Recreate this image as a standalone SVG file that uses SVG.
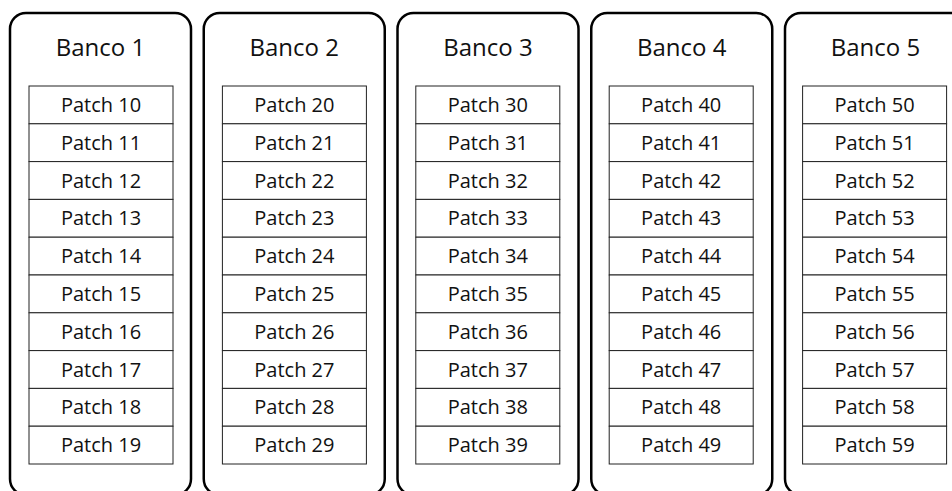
<svg xmlns="http://www.w3.org/2000/svg" width="952" height="491" viewBox="0 0 952 491">
  <style>
    .bank { fill: #fff; stroke: #000; stroke-width: 2.5; }
    .cell { fill: #fff; stroke: #222; stroke-width: 1; }
    .title { font-family: "Open Sans", "Noto Sans", sans-serif; font-size: 24px; fill: #111; text-anchor: middle; }
    .lbl { font-family: "Open Sans", "Noto Sans", sans-serif; font-size: 20px; fill: #111; text-anchor: middle; }
  </style>
  <rect width="952" height="491" fill="#fff"/>

  <g id="banco1">
    <rect class="bank" x="10" y="13" width="181" height="482" rx="16"/>
    <text class="title" x="100.5" y="56">Banco 1</text>
    <g id="patches1">
      <rect class="cell" x="29" y="86" width="144" height="37.8"/><text class="lbl" x="101" y="112">Patch 10</text>
      <rect class="cell" x="29" y="123.8" width="144" height="37.8"/><text class="lbl" x="101" y="149.8">Patch 11</text>
      <rect class="cell" x="29" y="161.6" width="144" height="37.8"/><text class="lbl" x="101" y="187.6">Patch 12</text>
      <rect class="cell" x="29" y="199.4" width="144" height="37.8"/><text class="lbl" x="101" y="225.4">Patch 13</text>
      <rect class="cell" x="29" y="237.2" width="144" height="37.8"/><text class="lbl" x="101" y="263.2">Patch 14</text>
      <rect class="cell" x="29" y="275" width="144" height="37.8"/><text class="lbl" x="101" y="301">Patch 15</text>
      <rect class="cell" x="29" y="312.8" width="144" height="37.8"/><text class="lbl" x="101" y="338.8">Patch 16</text>
      <rect class="cell" x="29" y="350.6" width="144" height="37.8"/><text class="lbl" x="101" y="376.6">Patch 17</text>
      <rect class="cell" x="29" y="388.4" width="144" height="37.8"/><text class="lbl" x="101" y="414.4">Patch 18</text>
      <rect class="cell" x="29" y="426.2" width="144" height="37.8"/><text class="lbl" x="101" y="452.2">Patch 19</text>
    </g>
  </g>

  <g id="banco2">
    <rect class="bank" x="203.75" y="13" width="181" height="482" rx="16"/>
    <text class="title" x="294.25" y="56">Banco 2</text>
    <g id="patches2">
      <rect class="cell" x="222.4" y="86" width="144" height="37.8"/><text class="lbl" x="294.4" y="112">Patch 20</text>
      <rect class="cell" x="222.4" y="123.8" width="144" height="37.8"/><text class="lbl" x="294.4" y="149.8">Patch 21</text>
      <rect class="cell" x="222.4" y="161.6" width="144" height="37.8"/><text class="lbl" x="294.4" y="187.6">Patch 22</text>
      <rect class="cell" x="222.4" y="199.4" width="144" height="37.8"/><text class="lbl" x="294.4" y="225.4">Patch 23</text>
      <rect class="cell" x="222.4" y="237.2" width="144" height="37.8"/><text class="lbl" x="294.4" y="263.2">Patch 24</text>
      <rect class="cell" x="222.4" y="275" width="144" height="37.8"/><text class="lbl" x="294.4" y="301">Patch 25</text>
      <rect class="cell" x="222.4" y="312.8" width="144" height="37.8"/><text class="lbl" x="294.4" y="338.8">Patch 26</text>
      <rect class="cell" x="222.4" y="350.6" width="144" height="37.8"/><text class="lbl" x="294.4" y="376.6">Patch 27</text>
      <rect class="cell" x="222.4" y="388.4" width="144" height="37.8"/><text class="lbl" x="294.4" y="414.4">Patch 28</text>
      <rect class="cell" x="222.4" y="426.2" width="144" height="37.8"/><text class="lbl" x="294.4" y="452.2">Patch 29</text>
    </g>
  </g>

  <g id="banco3">
    <rect class="bank" x="397.5" y="13" width="181" height="482" rx="16"/>
    <text class="title" x="488" y="56">Banco 3</text>
    <g id="patches3">
      <rect class="cell" x="415.8" y="86" width="144" height="37.8"/><text class="lbl" x="487.8" y="112">Patch 30</text>
      <rect class="cell" x="415.8" y="123.8" width="144" height="37.8"/><text class="lbl" x="487.8" y="149.8">Patch 31</text>
      <rect class="cell" x="415.8" y="161.6" width="144" height="37.8"/><text class="lbl" x="487.8" y="187.6">Patch 32</text>
      <rect class="cell" x="415.8" y="199.4" width="144" height="37.8"/><text class="lbl" x="487.8" y="225.4">Patch 33</text>
      <rect class="cell" x="415.8" y="237.2" width="144" height="37.8"/><text class="lbl" x="487.8" y="263.2">Patch 34</text>
      <rect class="cell" x="415.8" y="275" width="144" height="37.8"/><text class="lbl" x="487.8" y="301">Patch 35</text>
      <rect class="cell" x="415.8" y="312.8" width="144" height="37.8"/><text class="lbl" x="487.8" y="338.8">Patch 36</text>
      <rect class="cell" x="415.8" y="350.6" width="144" height="37.8"/><text class="lbl" x="487.8" y="376.6">Patch 37</text>
      <rect class="cell" x="415.8" y="388.4" width="144" height="37.8"/><text class="lbl" x="487.8" y="414.4">Patch 38</text>
      <rect class="cell" x="415.8" y="426.2" width="144" height="37.8"/><text class="lbl" x="487.8" y="452.2">Patch 39</text>
    </g>
  </g>

  <g id="banco4">
    <rect class="bank" x="591.25" y="13" width="181" height="482" rx="16"/>
    <text class="title" x="681.75" y="56">Banco 4</text>
    <g id="patches4">
      <rect class="cell" x="609.2" y="86" width="144" height="37.8"/><text class="lbl" x="681.2" y="112">Patch 40</text>
      <rect class="cell" x="609.2" y="123.8" width="144" height="37.8"/><text class="lbl" x="681.2" y="149.8">Patch 41</text>
      <rect class="cell" x="609.2" y="161.6" width="144" height="37.8"/><text class="lbl" x="681.2" y="187.6">Patch 42</text>
      <rect class="cell" x="609.2" y="199.4" width="144" height="37.8"/><text class="lbl" x="681.2" y="225.4">Patch 43</text>
      <rect class="cell" x="609.2" y="237.2" width="144" height="37.8"/><text class="lbl" x="681.2" y="263.2">Patch 44</text>
      <rect class="cell" x="609.2" y="275" width="144" height="37.8"/><text class="lbl" x="681.2" y="301">Patch 45</text>
      <rect class="cell" x="609.2" y="312.8" width="144" height="37.8"/><text class="lbl" x="681.2" y="338.8">Patch 46</text>
      <rect class="cell" x="609.2" y="350.6" width="144" height="37.8"/><text class="lbl" x="681.2" y="376.6">Patch 47</text>
      <rect class="cell" x="609.2" y="388.4" width="144" height="37.8"/><text class="lbl" x="681.2" y="414.4">Patch 48</text>
      <rect class="cell" x="609.2" y="426.2" width="144" height="37.8"/><text class="lbl" x="681.2" y="452.2">Patch 49</text>
    </g>
  </g>

  <g id="banco5">
    <rect class="bank" x="785" y="13" width="181" height="482" rx="16"/>
    <text class="title" x="875.5" y="56">Banco 5</text>
    <g id="patches5">
      <rect class="cell" x="802.6" y="86" width="144" height="37.8"/><text class="lbl" x="874.6" y="112">Patch 50</text>
      <rect class="cell" x="802.6" y="123.8" width="144" height="37.8"/><text class="lbl" x="874.6" y="149.8">Patch 51</text>
      <rect class="cell" x="802.6" y="161.6" width="144" height="37.8"/><text class="lbl" x="874.6" y="187.6">Patch 52</text>
      <rect class="cell" x="802.6" y="199.4" width="144" height="37.8"/><text class="lbl" x="874.6" y="225.4">Patch 53</text>
      <rect class="cell" x="802.6" y="237.2" width="144" height="37.8"/><text class="lbl" x="874.6" y="263.2">Patch 54</text>
      <rect class="cell" x="802.6" y="275" width="144" height="37.8"/><text class="lbl" x="874.6" y="301">Patch 55</text>
      <rect class="cell" x="802.6" y="312.8" width="144" height="37.8"/><text class="lbl" x="874.6" y="338.8">Patch 56</text>
      <rect class="cell" x="802.6" y="350.6" width="144" height="37.8"/><text class="lbl" x="874.6" y="376.6">Patch 57</text>
      <rect class="cell" x="802.6" y="388.4" width="144" height="37.8"/><text class="lbl" x="874.6" y="414.4">Patch 58</text>
      <rect class="cell" x="802.6" y="426.2" width="144" height="37.8"/><text class="lbl" x="874.6" y="452.2">Patch 59</text>
    </g>
  </g>
</svg>
